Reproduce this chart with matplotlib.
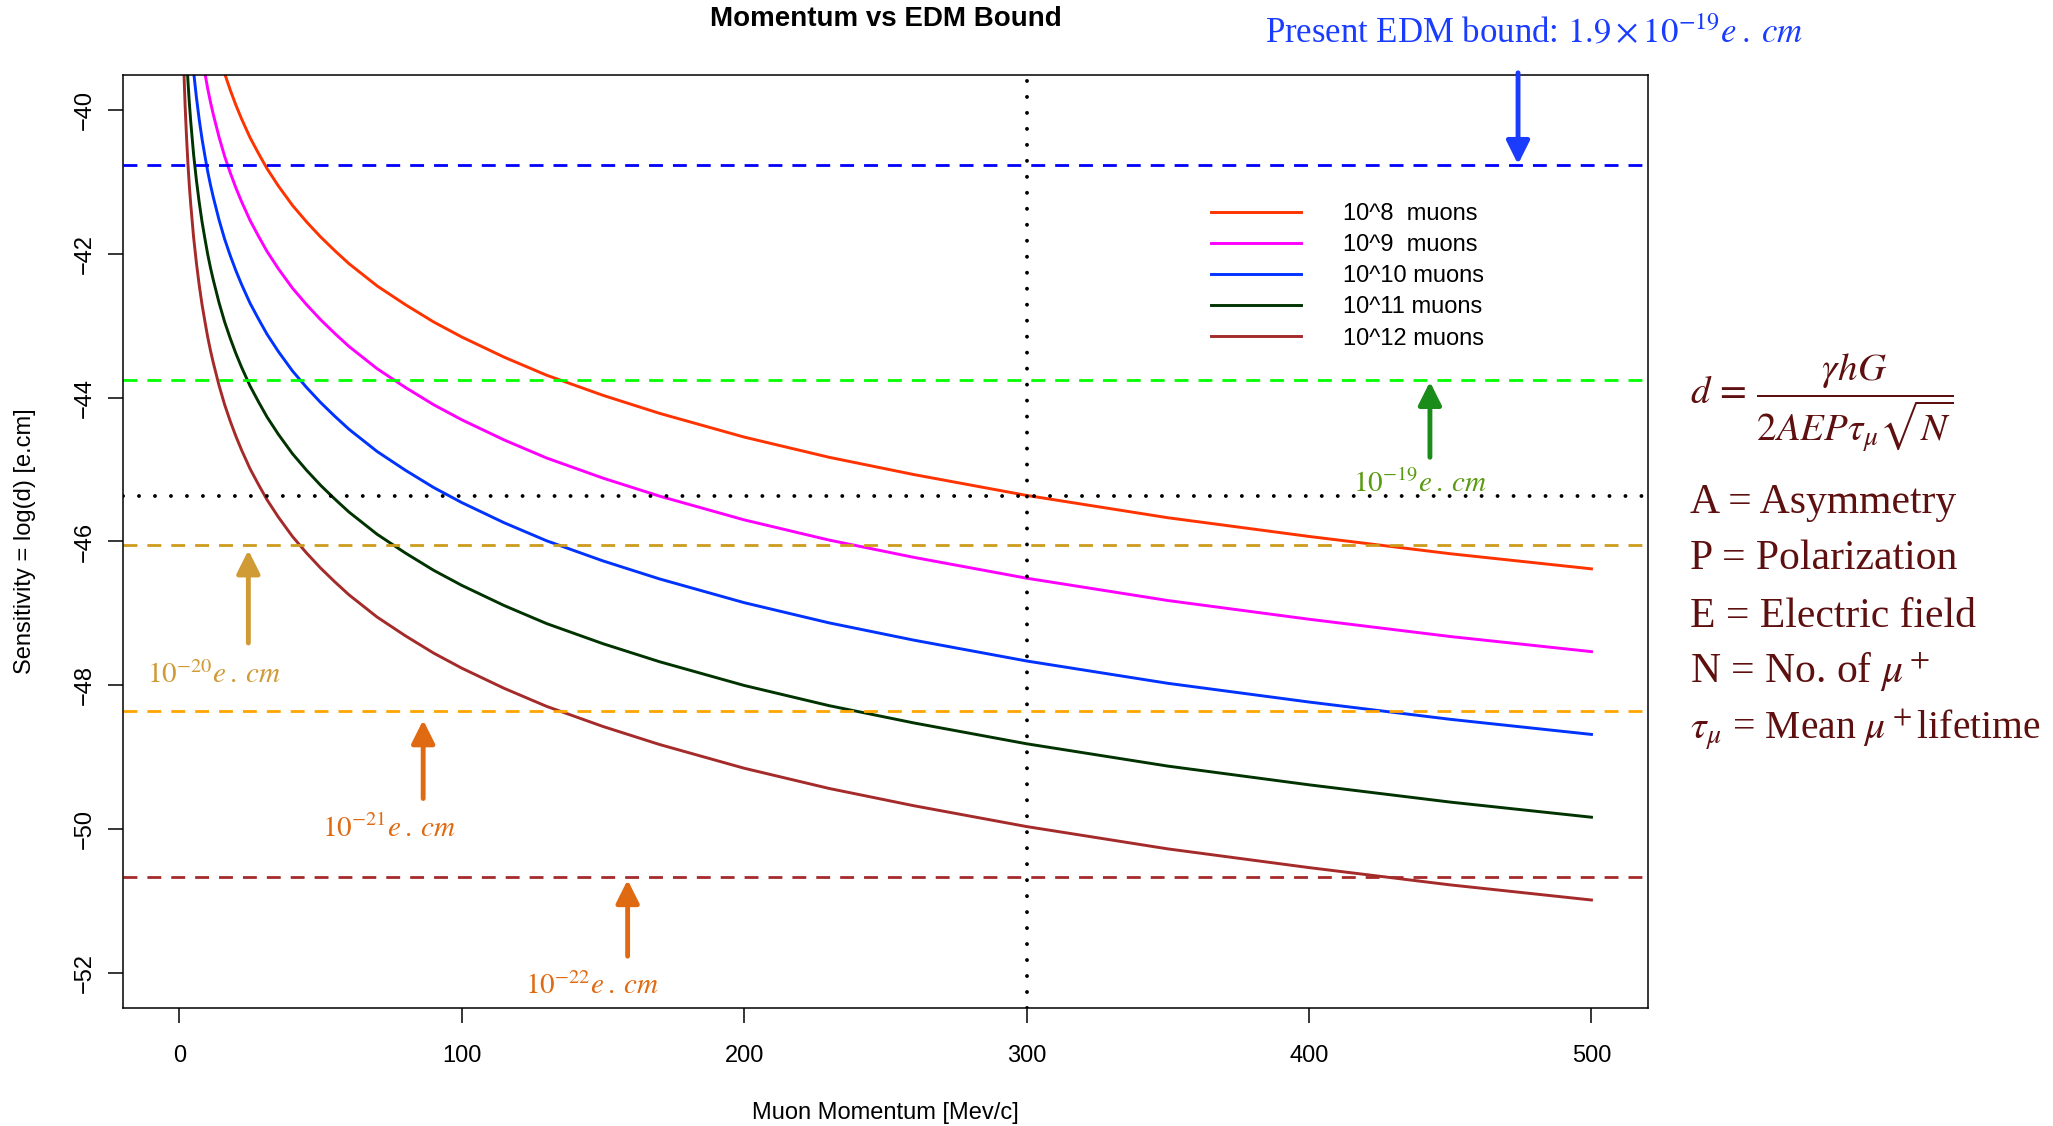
import matplotlib
matplotlib.use("Agg")
import matplotlib.pyplot as plt

plt.rcParams['font.family'] = ['Liberation Sans', 'DejaVu Sans']
plt.rcParams['mathtext.fontset'] = 'stix'

# muon momentum [MeV/c] and log sensitivity for each sample size
momentum = [1, 1.25, 1.5, 1.75, 2, 2.5, 3, 3.5, 4, 5, 6, 7, 8, 9, 10, 11, 12, 14, 16, 18,
            20, 22, 25, 28, 31, 35, 40, 45, 50, 55, 60, 70, 80, 90, 100, 115, 130, 150,
            170, 200, 230, 260, 300, 350, 400, 450, 500]
sens_1e8 = [-33.95, -34.40, -34.76, -35.07, -35.34, -35.78, -36.15, -36.46, -36.72, -37.17,
            -37.53, -37.84, -38.11, -38.34, -38.56, -38.75, -38.92, -39.23, -39.50, -39.73,
            -39.94, -40.13, -40.39, -40.61, -40.82, -41.06, -41.33, -41.56, -41.77, -41.96,
            -42.14, -42.45, -42.71, -42.95, -43.16, -43.44, -43.69, -43.97, -44.22, -44.55,
            -44.83, -45.07, -45.36, -45.67, -45.93, -46.17, -46.38]
sens_1e9 = [-35.10, -35.55, -35.91, -36.22, -36.49, -36.93, -37.30, -37.61, -37.87, -38.32,
            -38.68, -38.99, -39.26, -39.49, -39.71, -39.90, -40.07, -40.38, -40.65, -40.88,
            -41.09, -41.28, -41.54, -41.76, -41.97, -42.21, -42.48, -42.71, -42.92, -43.11,
            -43.29, -43.60, -43.86, -44.10, -44.31, -44.59, -44.84, -45.12, -45.37, -45.70,
            -45.98, -46.22, -46.51, -46.82, -47.08, -47.32, -47.53]
sens_1e10 = [-36.25, -36.70, -37.06, -37.37, -37.64, -38.08, -38.45, -38.76, -39.02, -39.47,
             -39.83, -40.14, -40.41, -40.64, -40.86, -41.05, -41.22, -41.53, -41.80, -42.03,
             -42.24, -42.43, -42.69, -42.91, -43.12, -43.36, -43.63, -43.86, -44.07, -44.26,
             -44.44, -44.75, -45.01, -45.25, -45.46, -45.74, -45.99, -46.27, -46.52, -46.85,
             -47.13, -47.37, -47.66, -47.97, -48.23, -48.47, -48.68]
sens_1e11 = [-37.40, -37.85, -38.21, -38.52, -38.79, -39.23, -39.60, -39.91, -40.17, -40.62,
             -40.98, -41.29, -41.56, -41.79, -42.01, -42.20, -42.37, -42.68, -42.95, -43.18,
             -43.39, -43.58, -43.84, -44.06, -44.27, -44.51, -44.78, -45.01, -45.22, -45.41,
             -45.59, -45.90, -46.16, -46.40, -46.61, -46.89, -47.14, -47.42, -47.67, -48.00,
             -48.28, -48.52, -48.81, -49.12, -49.38, -49.62, -49.83]
sens_1e12 = [-38.55, -39.00, -39.36, -39.67, -39.94, -40.38, -40.75, -41.06, -41.32, -41.77,
             -42.13, -42.44, -42.71, -42.94, -43.16, -43.35, -43.52, -43.83, -44.10, -44.33,
             -44.54, -44.73, -44.99, -45.21, -45.42, -45.66, -45.93, -46.16, -46.37, -46.56,
             -46.74, -47.05, -47.31, -47.55, -47.76, -48.04, -48.29, -48.57, -48.82, -49.15,
             -49.43, -49.67, -49.96, -50.27, -50.53, -50.77, -50.98]

curve_labels = ["10^8  muons", "10^9  muons", "10^10 muons", "10^11 muons", "10^12 muons"]
curve_colors = ["#FF3300", "#FF00FF", "#0033FF", "#003300", "#A52A2A"]

# EDM bound levels: present bound, 1e-19, 1e-20, 1e-21, 1e-22 e.cm
bound_levels = [-40.77, -43.75, -46.05, -48.35, -50.66]
bound_colors = ["#0000FF", "#00FF00", "#CD9B1D", "#FFA500", "#A52A2A"]

# 10^8 muons at 300 MeV/c
ref_momentum = 300
ref_level = -45.37

fig = plt.figure(figsize=(20.53, 11.26), dpi=100)
ax = fig.add_axes([0.0599, 0.1048, 0.7428, 0.8286])

curves = [sens_1e8, sens_1e9, sens_1e10, sens_1e11, sens_1e12]
for vals, col, lab in zip(curves, curve_colors, curve_labels):
    ax.plot(momentum, vals, color=col, lw=2.1, label=lab)

for lvl, col in zip(bound_levels, bound_colors):
    ax.axhline(lvl, color=col, lw=2, dashes=(5, 3.6))

dot = (0, (0.01, 4.1))
ax.axhline(ref_level, color="black", lw=2.8, linestyle=dot, dash_capstyle="round")
ax.axvline(ref_momentum, color="black", lw=2.8, linestyle=dot, dash_capstyle="round")

ax.set_xlim(-20, 520)
ax.set_ylim(-52.48, -39.52)
ax.set_xticks([0, 100, 200, 300, 400, 500])
ax.set_yticks([-40, -42, -44, -46, -48, -50, -52])
ax.tick_params(direction="out", length=10.5, width=1.1, labelsize=17)
ax.tick_params(axis="x", pad=16)
ax.tick_params(axis="y", pad=9)
for lbl in ax.get_yticklabels():
    lbl.set_rotation(90)
    lbl.set_va("center")
for sp in ax.spines.values():
    sp.set_linewidth(1.1)

ax.set_xlabel("Muon Momentum [Mev/c]", fontsize=17)
ax.set_ylabel("Sensitivity = log(d) [e.cm]", fontsize=17)
ax.xaxis.set_label_coords(0.5, -0.101)
ax.yaxis.set_label_coords(-0.057, 0.5)
ax.text(0.5, 1.060, "Momentum vs EDM Bound", transform=ax.transAxes,
        ha="center", va="center", fontsize=20, fontweight="bold")

ax.legend(loc="upper left", bbox_to_anchor=(0.7134, 0.863), frameon=False,
          fontsize=17, handlelength=3.8, handletextpad=1.8, labelspacing=0.39,
          borderpad=0, borderaxespad=0)

# arrows pointing at each bound line
arrows = [
    (474.0, -39.49, -40.76, "#1A3CFF"),
    (442.8, -44.83, -43.78, "#1A8C1A"),
    (24.4, -47.41, -46.12, "#D09A35"),
    (86.3, -49.57, -48.48, "#E06A12"),
    (158.7, -51.76, -50.70, "#E06A12"),
]
for x, y0, y1, col in arrows:
    ax.annotate("", xy=(x, y1), xytext=(x, y0), annotation_clip=False,
                arrowprops=dict(arrowstyle="-|>,head_length=1.0,head_width=0.5",
                                mutation_scale=14, lw=3.5, color=col,
                                shrinkA=0, shrinkB=0))

serif = ["Liberation Serif", "DejaVu Serif"]
bound_text = [
    (415.5, -45.31, r"$10^{-19}e\:.\:cm$", "#5A9A12"),
    (-11.6, -47.96, r"$10^{-20}e\:.\:cm$", "#D09A35"),
    (50.4, -50.10, r"$10^{-21}e\:.\:cm$", "#E06A12"),
    (122.3, -52.29, r"$10^{-22}e\:.\:cm$", "#E06A12"),
]
for x, y, s, col in bound_text:
    ax.text(x, y, s, color=col, fontsize=21, ha="left", va="baseline",
            family=serif, clip_on=False)

fig.text(0.616, 0.9627, r"Present EDM bound: $1.9\times10^{-19}e\:.\:cm$",
         color="#1A3CFF", fontsize=25, ha="left", va="baseline", family=serif)

maroon = "#5E1010"
fig.text(0.8230, 0.642, r"$d\,=\,\dfrac{\gamma hG}{2AEP\tau_\mu\sqrt{N}}$",
         color=maroon, fontsize=28, ha="left", va="center", family=serif)
defs = [
    "A = Asymmetry",
    "P = Polarization",
    "E = Electric field",
    r"N = No. of $\mu^+$",
    r"$\tau_\mu$ = Mean $\mu^+$lifetime",
]
def_sizes = [30, 30, 30, 30, 28.5]
baselines = [0.5447, 0.4944, 0.4434, 0.3932, 0.3434]
for s, yb, fs in zip(defs, baselines, def_sizes):
    fig.text(0.8230, yb, s, color=maroon, fontsize=fs, ha="left",
             va="baseline", family=serif)

fig.savefig("out.png", dpi=100)
